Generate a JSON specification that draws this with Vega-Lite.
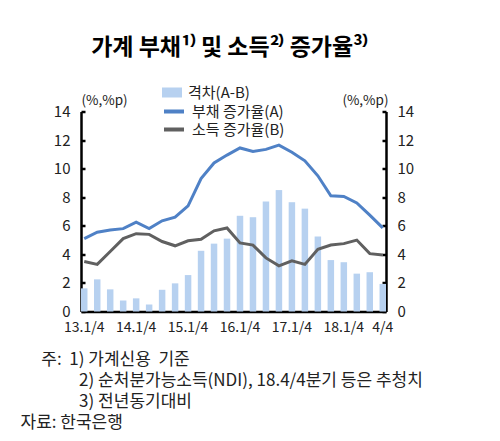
{
  "$schema": "https://vega.github.io/schema/vega-lite/v6.json",
  "width": 305,
  "height": 200,
  "autosize": {"type": "none"},
  "padding": {"left": 81, "top": 111.5, "right": 114, "bottom": 129.5},
  "background": "white",
  "config": {"font": "Noto Sans CJK KR", "view": {"stroke": null}},
  "title": {"text": "가계 부채¹⁾ 및 소득²⁾ 증가율³⁾", "frame": "group", "anchor": "middle", "offset": 25, "dx": -4, "fontSize": 23, "fontWeight": "bold", "color": "black", "font": "Noto Sans CJK KR"},
  "datasets": {
    "gap": [
      {"q": "13.1/4", "s": "격차(A-B)", "v": 1.62}, {"q": "13.2/4", "s": "격차(A-B)", "v": 2.25}, {"q": "13.3/4", "s": "격차(A-B)", "v": 1.55}, {"q": "13.4/4", "s": "격차(A-B)", "v": 0.77},
      {"q": "14.1/4", "s": "격차(A-B)", "v": 0.92}, {"q": "14.2/4", "s": "격차(A-B)", "v": 0.49}, {"q": "14.3/4", "s": "격차(A-B)", "v": 1.52}, {"q": "14.4/4", "s": "격차(A-B)", "v": 1.97},
      {"q": "15.1/4", "s": "격차(A-B)", "v": 2.55}, {"q": "15.2/4", "s": "격차(A-B)", "v": 4.25}, {"q": "15.3/4", "s": "격차(A-B)", "v": 4.75}, {"q": "15.4/4", "s": "격차(A-B)", "v": 5.1},
      {"q": "16.1/4", "s": "격차(A-B)", "v": 6.7}, {"q": "16.2/4", "s": "격차(A-B)", "v": 6.6}, {"q": "16.3/4", "s": "격차(A-B)", "v": 7.7}, {"q": "16.4/4", "s": "격차(A-B)", "v": 8.5},
      {"q": "17.1/4", "s": "격차(A-B)", "v": 7.65}, {"q": "17.2/4", "s": "격차(A-B)", "v": 7.2}, {"q": "17.3/4", "s": "격차(A-B)", "v": 5.25}, {"q": "17.4/4", "s": "격차(A-B)", "v": 3.6},
      {"q": "18.1/4", "s": "격차(A-B)", "v": 3.45}, {"q": "18.2/4", "s": "격차(A-B)", "v": 2.65}, {"q": "18.3/4", "s": "격차(A-B)", "v": 2.75}, {"q": "18.4/4", "s": "격차(A-B)", "v": 1.93}
    ],
    "lines": [
      {"q": "13.1/4", "s": "부채 증가율(A)", "v": 5.1}, {"q": "13.2/4", "s": "부채 증가율(A)", "v": 5.55}, {"q": "13.3/4", "s": "부채 증가율(A)", "v": 5.7}, {"q": "13.4/4", "s": "부채 증가율(A)", "v": 5.8},
      {"q": "14.1/4", "s": "부채 증가율(A)", "v": 6.25}, {"q": "14.2/4", "s": "부채 증가율(A)", "v": 5.8}, {"q": "14.3/4", "s": "부채 증가율(A)", "v": 6.35}, {"q": "14.4/4", "s": "부채 증가율(A)", "v": 6.6},
      {"q": "15.1/4", "s": "부채 증가율(A)", "v": 7.4}, {"q": "15.2/4", "s": "부채 증가율(A)", "v": 9.3}, {"q": "15.3/4", "s": "부채 증가율(A)", "v": 10.4}, {"q": "15.4/4", "s": "부채 증가율(A)", "v": 10.95},
      {"q": "16.1/4", "s": "부채 증가율(A)", "v": 11.45}, {"q": "16.2/4", "s": "부채 증가율(A)", "v": 11.2}, {"q": "16.3/4", "s": "부채 증가율(A)", "v": 11.35}, {"q": "16.4/4", "s": "부채 증가율(A)", "v": 11.65},
      {"q": "17.1/4", "s": "부채 증가율(A)", "v": 11.15}, {"q": "17.2/4", "s": "부채 증가율(A)", "v": 10.55}, {"q": "17.3/4", "s": "부채 증가율(A)", "v": 9.5}, {"q": "17.4/4", "s": "부채 증가율(A)", "v": 8.1},
      {"q": "18.1/4", "s": "부채 증가율(A)", "v": 8.05}, {"q": "18.2/4", "s": "부채 증가율(A)", "v": 7.6}, {"q": "18.3/4", "s": "부채 증가율(A)", "v": 6.75}, {"q": "18.4/4", "s": "부채 증가율(A)", "v": 5.85},
      {"q": "13.1/4", "s": "소득 증가율(B)", "v": 3.5}, {"q": "13.2/4", "s": "소득 증가율(B)", "v": 3.3}, {"q": "13.3/4", "s": "소득 증가율(B)", "v": 4.2}, {"q": "13.4/4", "s": "소득 증가율(B)", "v": 5.1},
      {"q": "14.1/4", "s": "소득 증가율(B)", "v": 5.45}, {"q": "14.2/4", "s": "소득 증가율(B)", "v": 5.4}, {"q": "14.3/4", "s": "소득 증가율(B)", "v": 4.9}, {"q": "14.4/4", "s": "소득 증가율(B)", "v": 4.6},
      {"q": "15.1/4", "s": "소득 증가율(B)", "v": 4.95}, {"q": "15.2/4", "s": "소득 증가율(B)", "v": 5.05}, {"q": "15.3/4", "s": "소득 증가율(B)", "v": 5.65}, {"q": "15.4/4", "s": "소득 증가율(B)", "v": 5.85},
      {"q": "16.1/4", "s": "소득 증가율(B)", "v": 4.8}, {"q": "16.2/4", "s": "소득 증가율(B)", "v": 4.65}, {"q": "16.3/4", "s": "소득 증가율(B)", "v": 3.75}, {"q": "16.4/4", "s": "소득 증가율(B)", "v": 3.2},
      {"q": "17.1/4", "s": "소득 증가율(B)", "v": 3.55}, {"q": "17.2/4", "s": "소득 증가율(B)", "v": 3.3}, {"q": "17.3/4", "s": "소득 증가율(B)", "v": 4.35}, {"q": "17.4/4", "s": "소득 증가율(B)", "v": 4.65},
      {"q": "18.1/4", "s": "소득 증가율(B)", "v": 4.75}, {"q": "18.2/4", "s": "소득 증가율(B)", "v": 5.0}, {"q": "18.3/4", "s": "소득 증가율(B)", "v": 4.05}, {"q": "18.4/4", "s": "소득 증가율(B)", "v": 3.95}
    ]
  },
  "layer": [
    {
      "data": {"name": "gap"},
      "mark": {"type": "bar"},
      "encoding": {
        "x": {
          "field": "q", "type": "ordinal", "sort": null,
          "scale": {"paddingInner": 0.5, "paddingOuter": 0},
          "axis": {
            "title": ["\u200b\u3000\u00a0주:\u00a0\u00a01)\u00a0가계신용\u00a0\u00a0기준", "\u200b\u3000\u3000\u3000\u00a0\u00a02)\u00a0순처분가능소득(NDI),\u00a018.4/4분기\u00a0등은\u00a0추청치", "\u200b\u3000\u3000\u3000\u00a0\u00a03)\u00a0전년동기대비", "자료:\u00a0한국은행"],
            "titleX": -61, "titleY": 40, "titleAlign": "left", "titleAnchor": "start", "titleBaseline": "top",
            "titleFontSize": 17, "titleFontWeight": "normal", "titleLineHeight": 21, "titleColor": "#222",
            "labelExpr": "indexof(datum.value, '.1/4') > 0 ? datum.value : (datum.value === '18.4/4' ? '4/4' : '')",
            "labelAngle": 0, "labelOverlap": false, "labelFontSize": 14, "labelColor": "#222", "labelPadding": 9,
            "ticks": false, "domainColor": "black", "domainWidth": 2.5
          }
        },
        "y": {
          "field": "v", "type": "quantitative",
          "scale": {"domain": [0, 14], "nice": false},
          "axis": {
            "title": "(%,%p)", "titleAngle": 0, "titleAlign": "left", "titleX": 0, "titleY": -4, "titleBaseline": "bottom",
            "titleFontSize": 13.5, "titleFontWeight": "normal", "titleColor": "#222",
            "values": [0, 2, 4, 6, 8, 10, 12, 14], "grid": false,
            "tickSize": -4, "tickColor": "black", "tickWidth": 2.5,
            "domainColor": "black", "domainWidth": 2.5,
            "labelFontSize": 15, "labelPadding": 15, "labelColor": "#222"
          }
        },
        "fill": {
          "field": "s", "type": "nominal",
          "scale": {"domain": ["격차(A-B)"], "range": ["#b7d1f0"]},
          "legend": {"orient": "none", "legendX": 81, "legendY": -27, "title": null, "symbolType": "M-1,-0.5H1V0.5H-1Z", "symbolSize": 400, "symbolStrokeWidth": 0, "labelFontSize": 15, "labelColor": "#222", "labelOffset": 6, "clipHeight": 16}
        }
      }
    },
    {
      "data": {"name": "lines"},
      "mark": {"type": "line", "strokeWidth": 3},
      "encoding": {
        "x": {"field": "q", "type": "ordinal", "sort": null, "bandPosition": 0.5},
        "y": {
          "field": "v", "type": "quantitative",
          "scale": {"domain": [0, 14], "nice": false},
          "axis": {
            "orient": "right",
            "title": "(%,%p)", "titleAngle": 0, "titleAlign": "right", "titleX": 2, "titleY": -4, "titleBaseline": "bottom",
            "titleFontSize": 13.5, "titleFontWeight": "normal", "titleColor": "#222",
            "values": [0, 2, 4, 6, 8, 10, 12, 14], "grid": false,
            "tickSize": -4, "tickColor": "black", "tickWidth": 2.5,
            "domainColor": "black", "domainWidth": 2.5,
            "labelFontSize": 15, "labelPadding": 15, "labelColor": "#222"
          }
        },
        "stroke": {
          "field": "s", "type": "nominal",
          "scale": {"domain": ["부채 증가율(A)", "소득 증가율(B)"], "range": ["#4f81c6", "#606060"]},
          "legend": {"orient": "none", "legendX": 81, "legendY": -8, "title": null, "symbolType": "stroke", "symbolSize": 400, "symbolStrokeWidth": 4, "labelFontSize": 15, "labelColor": "#222", "labelOffset": 6, "clipHeight": 16, "rowPadding": 2}
        }
      }
    }
  ],
  "resolve": {"scale": {"y": "independent"}}
}
